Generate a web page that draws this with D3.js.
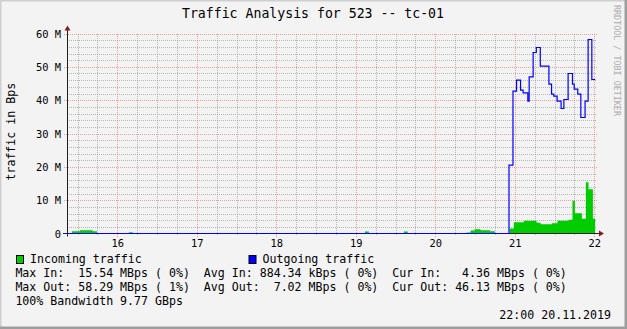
<!DOCTYPE html>
<html>
<head>
<meta charset="utf-8">
<script src="https://cdn.jsdelivr.net/npm/d3@7/dist/d3.min.js"></script>
<style>
  body { margin: 0; background: #f3f3f3; }
  svg { display: block; }
  svg text { font-family: "DejaVu Sans Mono", monospace; white-space: pre; fill: #000; }
</style>
</head>
<body>
<div id="chart"></div>
<script>
// chart values
const title = "Traffic Analysis for 523 -- tc-01";
const yTitle = "traffic in Bps";
const yTicks = [0, 10, 20, 30, 40, 50, 60];
const yTickLabels = ["0", "10 M", "20 M", "30 M", "40 M", "50 M", "60 M"];
const hourTicks = ["16:00:00", "17:00:00", "18:00:00", "19:00:00", "20:00:00", "21:00:00", "22:00:00"];
const hourLabels = ["16", "17", "18", "19", "20", "21", "22"];
const viewStart = "15:22:00";
const viewEnd = "22:02:00";
const dataEnd = "22:00:36";

// incoming traffic, MBps, each value holds until the next time
const inTimes = ["15:22:00", "15:25:42", "15:31:48", "15:41:24", "15:44:36", "16:08:42", "16:11:42",
  "19:06:48", "19:09:48", "19:36:12", "19:39:12", "20:23:30", "20:26:36", "20:29:36", "20:34:06",
  "20:41:06", "20:44:54", "20:56:14", "20:59:15", "21:06:48", "21:16:24", "21:19:24", "21:27:54",
  "21:32:12", "21:40:30", "21:43:30", "21:45:18", "21:50:36", "21:53:36", "21:55:36", "21:58:54"];
const inValues = [0, 0.7, 1.0, 0.7, 0, 0.4, 0,
  0.6, 0, 0.6, 0, 0.3, 0.9, 1.3, 1.0,
  0.7, 0, 1.5, 3.4, 3.8, 3.2, 2.8, 3.1,
  3.8, 4.1, 9.8, 6.1, 4.4, 15.4, 13.3, 4.4];

// outgoing traffic, MBps
const outTimes = ["15:22:00", "20:55:35", "20:58:35", "21:01:17", "21:04:18", "21:06:15", "21:09:48",
  "21:10:48", "21:13:48", "21:16:12", "21:19:12", "21:25:42", "21:27:42", "21:29:24", "21:31:54",
  "21:34:54", "21:37:00", "21:40:12", "21:43:30", "21:44:48", "21:47:30", "21:49:48", "21:53:00",
  "21:55:18", "21:58:06"];
const outValues = [0, 20.5, 42.7, 46.0, 43.0, 42.2, 39.7,
  47.0, 54.3, 55.8, 50.2, 44.8, 41.8, 41.2, 39.7,
  37.5, 40.2, 48.0, 44.8, 43.3, 41.8, 34.8, 39.7,
  58.2, 46.2];

const legendNames = ["Incoming traffic", "Outgoing traffic"];
const legendColors = ["#00cc00", "#0000ff"];
const statsLines = [
  "Max In:  15.54 MBps ( 0%)  Avg In: 884.34 kBps ( 0%)  Cur In:   4.36 MBps ( 0%)",
  "Max Out: 58.29 MBps ( 1%)  Avg Out:  7.02 MBps ( 0%)  Cur Out: 46.13 MBps ( 0%)",
  "100% Bandwidth 9.77 GBps"
];
const stamp = "22:00 20.11.2019";
const watermark = "RRDTOOL / TOBI OETIKER";

const W = 627, H = 329;
const margin = { top: 33.5, right: 30, bottom: 95.5, left: 67 };
const parse = d3.timeParse("%H:%M:%S");

const svg = d3.select("#chart").append("svg")
  .attr("width", W)
  .attr("height", H);

// background and 3d frame
svg.append("rect").attr("width", W).attr("height", H).attr("fill", "#f3f3f3");
svg.append("path").attr("d", `M0,${H} V0 H${W}`).attr("fill", "none")
  .attr("stroke", "#cfcfcf").attr("stroke-width", 3);
svg.append("path").attr("d", `M0,${H - 1} H${W - 1} V0`).attr("fill", "none")
  .attr("stroke", "#9e9e9e").attr("stroke-width", 3);

const x = d3.scaleTime()
  .domain([parse(viewStart), parse(viewEnd)])
  .range([margin.left, W - margin.right]);
const y = d3.scaleLinear()
  .domain([0, 60])
  .range([H - margin.bottom, margin.top]);

const x0 = margin.left, x1 = W - margin.right;
const yb = y(0);

// grid
const grid = svg.append("g").attr("shape-rendering", "crispEdges");
const minorY = y.ticks(30);
grid.selectAll(".gy").data(minorY.filter(d => d % 10 !== 0)).enter()
  .append("line")
  .attr("x1", x0).attr("x2", x1)
  .attr("y1", d => Math.round(y(d)) + 0.5).attr("y2", d => Math.round(y(d)) + 0.5)
  .attr("stroke", "rgba(143,143,143,0.6)").attr("stroke-dasharray", "1,1");
const minorX = x.ticks(d3.timeMinute.every(15)).filter(d => d.getMinutes() !== 0);
grid.selectAll(".gx").data(minorX).enter()
  .append("line")
  .attr("x1", d => Math.round(x(d)) + 0.5).attr("x2", d => Math.round(x(d)) + 0.5)
  .attr("y1", margin.top).attr("y2", yb + 2)
  .attr("stroke", "rgba(143,143,143,0.6)").attr("stroke-dasharray", "1,1");
grid.selectAll(".my").data(yTicks.filter(d => d > 0)).enter()
  .append("line")
  .attr("x1", x0 - 3).attr("x2", x1)
  .attr("y1", d => Math.round(y(d)) + 0.5).attr("y2", d => Math.round(y(d)) + 0.5)
  .attr("stroke", "rgba(222,79,79,0.5)").attr("stroke-dasharray", "1,1");
grid.selectAll(".mx").data(hourTicks.map(parse)).enter()
  .append("line")
  .attr("x1", d => Math.round(x(d)) + 0.5).attr("x2", d => Math.round(x(d)) + 0.5)
  .attr("y1", margin.top).attr("y2", yb + 3)
  .attr("stroke", "rgba(222,79,79,0.5)").attr("stroke-dasharray", "1,1");

// data
function steps(times, values) {
  const pts = times.map((t, i) => ({ t: parse(t), v: values[i] }));
  pts.push({ t: parse(dataEnd), v: values[values.length - 1] });
  return pts;
}
const inData = steps(inTimes, inValues);
const outData = steps(outTimes, outValues);

svg.append("path")
  .datum(inData)
  .attr("fill", legendColors[0])
  .attr("d", d3.area().curve(d3.curveStepAfter)
    .x(d => x(d.t)).y0(yb).y1(d => y(d.v)));

// axes
svg.append("line").attr("x1", x0 + 0.5).attr("x2", x0 + 0.5)
  .attr("y1", yb + 3).attr("y2", margin.top - 4)
  .attr("stroke", "#1f1f1f");
svg.append("line").attr("x1", x0 - 4).attr("x2", x1 + 3)
  .attr("y1", yb).attr("y2", yb)
  .attr("stroke", "#1f1f1f");

svg.append("path")
  .datum(outData)
  .attr("fill", "none")
  .attr("stroke", legendColors[1])
  .attr("stroke-width", 1.2)
  .attr("d", d3.line().curve(d3.curveStepAfter)
    .x(d => x(d.t)).y(d => y(d.v)));

// arrows
svg.append("path").attr("fill", "#801f1f")
  .attr("d", `M${x0 + 0.5},${margin.top - 8} l-3,5 h6 z`);
svg.append("path").attr("fill", "#801f1f")
  .attr("d", `M${x1 + 7},${yb} l-5,-3 v6 z`);

// tick labels
const xAxis = svg.append("g")
  .attr("transform", `translate(0,${yb})`)
  .call(d3.axisBottom(x).tickValues(hourTicks.map(parse))
    .tickFormat((d, i) => hourLabels[i]).tickSize(0));
xAxis.select(".domain").remove();
xAxis.selectAll("text").attr("y", 13).attr("dy", null)
  .style("font-size", "10.4px").style("font-family", "DejaVu Sans Mono");

const yAxis = svg.append("g")
  .attr("transform", `translate(${x0},0)`)
  .call(d3.axisLeft(y).tickValues(yTicks)
    .tickFormat((d, i) => yTickLabels[i]).tickSize(0).tickPadding(6));
yAxis.select(".domain").remove();
yAxis.selectAll("text").attr("dy", "0.36em")
  .style("font-size", "10.4px").style("font-family", "DejaVu Sans Mono");

// titles
svg.append("text").attr("x", 313).attr("y", 18.3)
  .attr("text-anchor", "middle").style("font-size", "13.2px").text(title);
svg.append("text")
  .attr("transform", "translate(15,131.7) rotate(-90)")
  .attr("text-anchor", "middle").style("font-size", "11.6px").text(yTitle);
svg.append("text")
  .attr("transform", "translate(614.3,5) rotate(90)")
  .style("font-size", "8.4px").style("fill", "#ababab").text(watermark);

// legend
const legendX = [16, 248.5];
legendNames.forEach((name, i) => {
  svg.append("rect")
    .attr("x", legendX[i] + 0.5).attr("y", 255.5)
    .attr("width", 7).attr("height", 8)
    .attr("fill", legendColors[i]).attr("stroke", "#000");
  svg.append("text")
    .attr("x", legendX[i] + 14).attr("y", 263)
    .style("font-size", "11.6px").text(name);
});
statsLines.forEach((line, i) => {
  svg.append("text")
    .attr("x", 15.4).attr("y", 277 + i * 14)
    .style("font-size", "11.6px").text(line);
});
svg.append("text").attr("x", 611).attr("y", 318.5)
  .attr("text-anchor", "end").style("font-size", "11.6px").text(stamp);
</script>
</body>
</html>
